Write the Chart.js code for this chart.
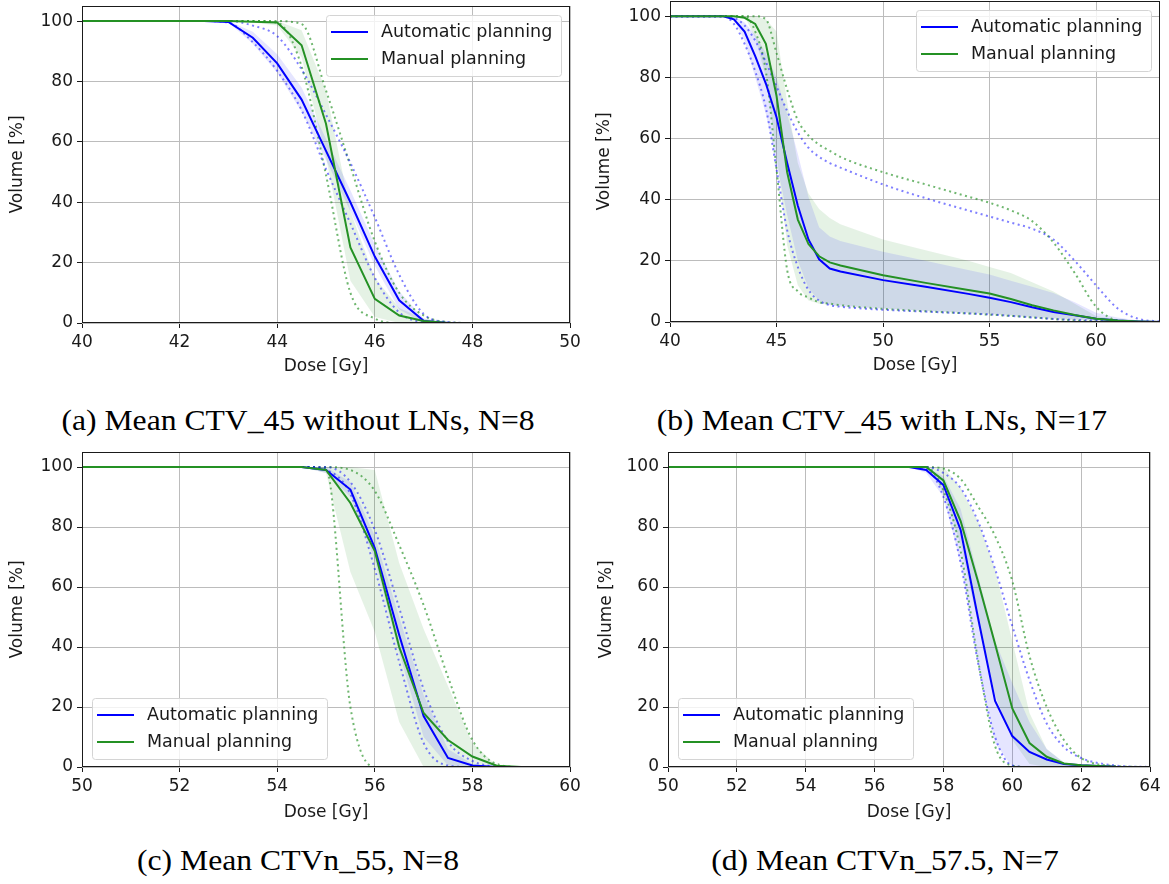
<!DOCTYPE html>
<html>
<head>
<meta charset="utf-8">
<script src="https://cdn.jsdelivr.net/npm/chart.js@4.4.1/dist/chart.umd.min.js"></script>
<style>
body { margin: 0; background: #fff; width: 1169px; height: 884px; position: relative; overflow: hidden; }
canvas { position: absolute; }
.cap { position: absolute; text-align: center; font-family: "Liberation Serif", serif; font-size: 30px; line-height: 30px; color: #000; white-space: nowrap; transform: scaleX(1.055); }
</style>
</head>
<body>
<canvas id="chartA" width="585" height="395" style="left:0;top:0"></canvas>
<canvas id="chartB" width="584" height="395" style="left:585px;top:0"></canvas>
<canvas id="chartC" width="585" height="395" style="left:0;top:440px"></canvas>
<canvas id="chartD" width="584" height="395" style="left:585px;top:440px"></canvas>
<div class="cap" style="left:0;top:405px;width:596px">(a) Mean CTV_45 without LNs, N=8</div>
<div class="cap" style="left:590px;top:405px;width:584px">(b) Mean CTV_45 with LNs, N=17</div>
<div class="cap" style="left:0;top:845px;width:596px">(c) Mean CTVn_55, N=8</div>
<div class="cap" style="left:593px;top:845px;width:584px">(d) Mean CTVn_57.5, N=7</div>
<script>

/* values: dose in Gy, volume in % */

// (a) CTV_45 without LNs
const doseA = [40, 42.5, 43, 43.5, 44, 44.5, 45, 45.5, 46, 46.5, 47, 47.5, 48, 50];
const autoMeanA = [100, 100, 99.7, 94.5, 86, 74, 57, 40, 22, 7.5, 0.7, 0, 0, 0];
const manualMeanA = [100, 100, 100, 99.8, 99.5, 92, 66, 25, 8, 2.5, 0.7, 0, 0, 0];
const autoLoA = [100, 100, 99.5, 92.5, 83, 70, 54, 37, 19, 4.5, 0, 0, 0, 0];
const autoHiA = [100, 100, 100, 96.5, 89, 78, 61, 44, 26, 10.5, 1.5, 0, 0, 0];
const manualLoA = [100, 100, 100, 99.5, 98.5, 88, 55, 14, 2, 0, 0, 0, 0, 0];
const manualHiA = [100, 100, 100, 100, 100, 97, 77, 37, 15, 5, 1.5, 0.2, 0, 0];
const autoMinA = [100, 100, 99.5, 93, 83.5, 70.5, 51, 33, 15, 3.5, 0.3, 0, 0, 0];
const autoMaxA = [100, 100, 100, 98.5, 95, 84, 69, 53, 35, 16, 3, 0.3, 0, 0];
const manualMinA = [100, 100, 100, 100, 99.5, 85, 49, 10, 1.5, 0, 0, 0, 0, 0];
const manualMaxA = [100, 100, 100, 100, 100, 99, 77, 52, 27, 10, 2.5, 0.3, 0, 0];

// (b) CTV_45 with LNs
const doseB = [40, 42.5, 43, 43.5, 44, 44.5, 45, 45.5, 46, 46.5, 47, 47.5, 48, 50, 52, 54, 55, 56, 57, 58, 59, 60, 61, 62, 63];
const autoMeanB = [100, 100, 99, 95, 87, 78, 67, 52, 38, 27, 20.5, 17.5, 16.5, 13.7, 11.5, 9.2, 7.9, 6.5, 4.8, 3.3, 2.2, 1.1, 0.5, 0.2, 0];
const manualMeanB = [100, 100, 100, 99.5, 97.5, 91, 74, 49, 33.5, 25.5, 21.5, 19.5, 18.5, 15.3, 12.8, 10.5, 9.3, 7.5, 5.5, 3.8, 2.3, 1.1, 0.5, 0.2, 0];
const autoLoB = [100, 100, 99, 92, 80, 68, 52, 35, 20, 11, 7, 5.5, 5, 4.3, 3.7, 3.1, 2.8, 2.3, 1.8, 1.3, 0.9, 0.5, 0.2, 0, 0];
const autoHiB = [100, 100, 100, 98, 94, 88, 80, 68, 55, 41, 31, 28, 26.5, 23, 20, 17, 15.5, 13.5, 11.5, 9.5, 6.5, 3, 1.5, 0.5, 0];
const manualLoB = [100, 100, 100, 100, 93, 80, 55, 25, 12, 7, 6, 5.7, 5.5, 4.5, 3.6, 2.9, 2.5, 2, 1.5, 1, 0.6, 0.3, 0, 0, 0];
const manualHiB = [100, 100, 100, 100, 100, 99, 95, 72, 52, 42, 37, 34, 32, 27, 23.5, 20, 18, 16, 13, 10, 6, 2, 0.8, 0, 0];
const autoMinB = [100, 100, 97.5, 91, 82, 70, 50, 30, 18, 10.5, 7, 5.5, 5, 4, 3.4, 2.8, 2.5, 2, 1.5, 1, 0.7, 0.5, 0.1, 0, 0];
const autoMaxB = [100, 100, 99.5, 97, 92, 85, 77, 69, 62, 57, 54, 52, 50.5, 45, 40.5, 36.5, 34.5, 32.5, 30.5, 27, 20, 12, 4.5, 1, 0.2];
const manualMinB = [100, 100, 100, 100, 95, 82, 50, 17, 10, 8, 6.5, 6, 5.5, 4.3, 3.5, 2.8, 2.4, 2, 1.5, 1, 0.5, 0.2, 0, 0, 0];
const manualMaxB = [100, 100, 100, 100, 100, 99, 88, 76, 66, 61, 58, 56, 54, 49, 45, 41, 39, 36.5, 33, 26, 16, 5, 0.5, 0, 0];

// (c) CTVn_55
const doseC = [50, 54, 54.5, 55, 55.5, 56, 56.5, 57, 57.5, 58, 58.5, 59, 60];
const autoMeanC = [100, 100, 100, 99, 92.5, 73, 44, 17, 3, 0.5, 0, 0, 0];
const manualMeanC = [100, 100, 100, 99, 88, 72, 40, 18, 9, 3.5, 0.4, 0, 0];
const autoLoC = [100, 100, 100, 98, 90, 69, 38, 10, 0.5, 0, 0, 0, 0];
const autoHiC = [100, 100, 100, 100, 95, 77, 50, 24, 6, 1, 0, 0, 0];
const manualLoC = [100, 100, 100, 98, 65, 45, 15, 0, 0, 0, 0, 0, 0];
const manualHiC = [100, 100, 100, 100, 100, 99, 68, 46, 27, 8, 0.5, 0, 0];
const autoMinC = [100, 100, 100, 99, 91, 66, 35, 8, 0.5, 0, 0, 0, 0];
const autoMaxC = [100, 100, 100, 100, 95, 79, 53, 26, 8.5, 2, 0.2, 0, 0];
const manualMinC = [100, 100, 100, 99.5, 20, 0, 0, 0, 0, 0, 0, 0, 0];
const manualMaxC = [100, 100, 100, 100, 99, 92, 74, 54, 30, 9, 1, 0, 0];

// (d) CTVn_57.5
const doseD = [50, 57, 57.5, 58, 58.5, 59, 59.5, 60, 60.5, 61, 61.5, 62, 63, 64];
const autoMeanD = [100, 100, 99, 94, 79, 50, 22, 10.3, 5, 2.5, 1, 0.6, 0.1, 0];
const manualMeanD = [100, 100, 100, 95.5, 82, 62, 41, 19.5, 8, 3.4, 1.2, 0.6, 0.1, 0];
const autoLoD = [100, 100, 98, 90, 68, 35, 8, 0, 0, 0, 0, 0, 0, 0];
const autoHiD = [100, 100, 100, 97, 86, 64, 42, 28, 15, 6, 1.5, 0.5, 0, 0];
const manualLoD = [100, 100, 100, 92, 74, 48, 24, 9, 1, 0, 0, 0, 0, 0];
const manualHiD = [100, 100, 100, 100, 93, 82, 66, 42, 18, 6, 1.5, 0.5, 0, 0];
const autoMinD = [100, 100, 99.5, 90, 68, 35, 10, 0.5, 0, 0, 0, 0, 0, 0];
const autoMaxD = [100, 100, 100, 98, 93, 82, 66, 47, 29, 14.5, 6.7, 3, 0.5, 0];
const manualMinD = [100, 100, 100, 92, 72, 36, 7, 0.5, 0, 0, 0, 0, 0, 0];
const manualMaxD = [100, 100, 100, 99.5, 96, 87, 77, 62, 37, 20, 9, 3, 0.3, 0];

const AUTO = "#0000ff";
const MANUAL = "#249124";
const FONT = "DejaVu Sans";
const INK = "#1a1a1a";

function pts(dose, vals) {
  return dose.map(function (d, i) { return { x: d, y: vals[i] }; });
}

function buildSets(dose, aMean, mMean, aLo, aHi, mLo, mHi, aMin, aMax, mMin, mMax) {
  function solid(label, vals, color, order) {
    return { label: label, data: pts(dose, vals), borderColor: color, borderWidth: 2, order: order, legendEntry: true };
  }
  function band(vals, fill) {
    return {
      label: "", data: pts(dose, vals), borderColor: "transparent", borderWidth: 0,
      backgroundColor: fill || "transparent", fill: fill ? "+1" : false, order: 3
    };
  }
  function dotted(vals, color) {
    return {
      label: "", data: pts(dose, vals), borderColor: color, borderWidth: 2, borderDash: [2, 3.5],
      cubicInterpolationMode: "monotone", order: 2
    };
  }
  return [
    solid("Automatic planning", aMean, AUTO, 1),
    solid("Manual planning", mMean, MANUAL, 0),
    band(aHi, "rgba(0,0,255,0.1)"),
    band(aLo, null),
    band(mHi, "rgba(0,128,0,0.1)"),
    band(mLo, null),
    dotted(aMin, "rgba(0,0,255,0.5)"),
    dotted(aMax, "rgba(0,0,255,0.5)"),
    dotted(mMin, "rgba(36,145,36,0.65)"),
    dotted(mMax, "rgba(36,145,36,0.65)")
  ];
}

/* black frame round the plot area, like matplotlib spines */
const frame = {
  id: "frame",
  afterDatasetsDraw: function (chart) {
    const a = chart.chartArea;
    const ctx = chart.ctx;
    ctx.save();
    ctx.strokeStyle = "#1a1a1a";
    ctx.lineWidth = 1;
    ctx.strokeRect(Math.round(a.left) + 0.5, Math.round(a.top) + 0.5,
      Math.round(a.right - a.left) - 1, Math.round(a.bottom - a.top) - 1);
    ctx.restore();
  }
};

/* matplotlib style legend drawn inside the plot area */
const insideLegend = {
  id: "insideLegend",
  afterDatasetsDraw: function (chart, args, opts) {
    const items = chart.data.datasets.filter(function (d) { return d.legendEntry; });
    const a = chart.chartArea;
    const ctx = chart.ctx;
    ctx.save();
    ctx.font = "17.5px '" + FONT + "'";
    let textW = 0;
    items.forEach(function (d) { textW = Math.max(textW, ctx.measureText(d.label).width); });
    const w = Math.round(5 + 37 + 13 + textW + 9);
    const rowH = 27;
    const h = items.length * rowH + 7;
    const x = opts.corner === "ne" ? Math.round(a.right) - 9 - w : Math.round(a.left) + 10;
    const y = opts.corner === "ne" ? Math.round(a.top) + 9 : Math.round(a.bottom) - 8 - h;
    ctx.beginPath();
    ctx.roundRect(x + 0.5, y + 0.5, w, h, 3);
    ctx.fillStyle = "rgba(255,255,255,0.8)";
    ctx.fill();
    ctx.strokeStyle = "#d4d4d4";
    ctx.lineWidth = 1;
    ctx.stroke();
    items.forEach(function (d, i) {
      const cy = y + 17 + i * rowH;
      ctx.beginPath();
      ctx.moveTo(x + 5, cy);
      ctx.lineTo(x + 42, cy);
      ctx.strokeStyle = d.borderColor;
      ctx.lineWidth = 2;
      ctx.stroke();
      ctx.fillStyle = INK;
      ctx.textBaseline = "middle";
      ctx.textAlign = "left";
      ctx.fillText(d.label, x + 55, cy);
    });
    ctx.restore();
  }
};

function makeChart(id, sets, xMin, xMax, xStep, box) {
  const tickFont = { family: FONT, size: 17 };
  new Chart(document.getElementById(id).getContext("2d"), {
    type: "line",
    data: { datasets: sets },
    options: {
      responsive: false,
      animation: false,
      layout: { padding: { left: 0, right: box.padRight, top: box.padTop, bottom: 0 } },
      elements: { point: { radius: 0 }, line: { tension: 0 } },
      plugins: {
        legend: { display: false },
        tooltip: { enabled: false },
        insideLegend: { corner: box.corner }
      },
      scales: {
        x: {
          type: "linear",
          min: xMin,
          max: xMax,
          ticks: { stepSize: xStep, includeBounds: false, color: INK, font: tickFont, padding: 4, maxRotation: 0 },
          grid: { color: "#bcbcbc", lineWidth: 1, tickLength: 5, tickColor: "#1a1a1a" },
          border: { display: false },
          title: { display: true, text: "Dose [Gy]", color: INK, font: tickFont, padding: { top: 0, bottom: box.xTitlePad } },
          afterFit: function (scale) {
            scale.height = box.xHeight;
            scale.paddingLeft = 0;
            scale.paddingRight = 0;
          }
        },
        y: {
          min: 0,
          max: 105,
          ticks: { stepSize: 20, includeBounds: false, color: INK, font: tickFont, padding: 4 },
          grid: { color: "#bcbcbc", lineWidth: 1, tickLength: 5, tickColor: "#1a1a1a" },
          border: { display: false },
          title: { display: true, text: "Volume [%]", color: INK, font: tickFont, padding: { top: box.yTitlePad, bottom: 0 } },
          afterFit: function (scale) {
            scale.width = box.yWidth;
            scale.paddingTop = 0;
            scale.paddingBottom = 0;
          }
        }
      }
    },
    plugins: [frame, insideLegend]
  });
}

makeChart("chartA",
  buildSets(doseA, autoMeanA, manualMeanA, autoLoA, autoHiA, manualLoA, manualHiA, autoMinA, autoMaxA, manualMinA, manualMaxA),
  40, 50, 2,
  { yWidth: 82, padRight: 15, padTop: 6, xHeight: 72, xTitlePad: 17.8, yTitlePad: 7.8, corner: "ne" });

makeChart("chartB",
  buildSets(doseB, autoMeanB, manualMeanB, autoLoB, autoHiB, manualLoB, manualHiB, autoMinB, autoMaxB, manualMinB, manualMaxB),
  40, 63, 5,
  { yWidth: 85, padRight: 9, padTop: 1, xHeight: 73, xTitlePad: 18.8, yTitlePad: 9.8, corner: "ne" });

makeChart("chartC",
  buildSets(doseC, autoMeanC, manualMeanC, autoLoC, autoHiC, manualLoC, manualHiC, autoMinC, autoMaxC, manualMinC, manualMaxC),
  50, 60, 2,
  { yWidth: 82, padRight: 15, padTop: 12, xHeight: 68, xTitlePad: 11.8, yTitlePad: 7.8, corner: "sw" });

makeChart("chartD",
  buildSets(doseD, autoMeanD, manualMeanD, autoLoD, autoHiD, manualLoD, manualHiD, autoMinD, autoMaxD, manualMinD, manualMaxD),
  50, 64, 2,
  { yWidth: 83, padRight: 19, padTop: 12, xHeight: 68, xTitlePad: 11.8, yTitlePad: 11.8, corner: "sw" });

</script>
</body>
</html>
